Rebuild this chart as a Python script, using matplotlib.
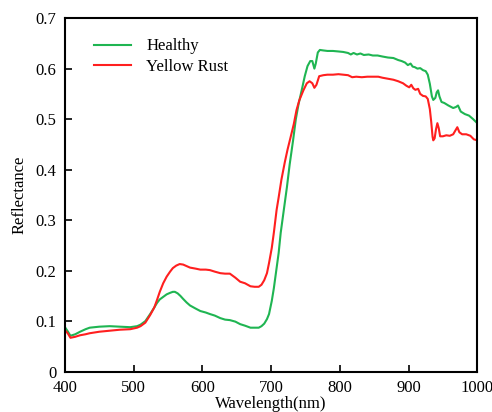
import numpy as np
import matplotlib
matplotlib.use("Agg")
import matplotlib.pyplot as plt

plt.rcParams['font.family'] = ['Liberation Serif', 'DejaVu Serif']

# healthy leaf spectrum
wl_h = [400, 404, 408, 415, 422, 430, 436, 450, 465, 480, 495, 505, 510, 517, 524,
        530, 534, 538, 543, 548, 553, 557, 560, 564, 568, 572, 577, 582, 590, 597,
        605, 611, 618, 626, 633, 640, 648, 655, 662, 670, 676, 682, 686, 690, 694,
        697, 701, 704, 707, 711, 714, 718, 723, 727, 732, 736, 740, 745, 749, 753,
        757, 760, 763, 765, 768, 771, 776, 782, 790, 798, 805, 812, 816, 820, 825,
        830, 835, 842, 848, 855, 862, 870, 878, 885, 890, 895, 899, 903, 906, 909,
        913, 917, 921, 925, 928, 931, 934, 936, 939, 941, 943, 945, 948, 952, 958,
        965, 969, 972, 976, 982, 988, 994, 1000]
refl_h = [0.088, 0.080, 0.071, 0.074, 0.079, 0.084, 0.087, 0.089, 0.090, 0.089,
          0.088, 0.090, 0.093, 0.100, 0.114, 0.127, 0.136, 0.143, 0.148, 0.153,
          0.156, 0.158, 0.158, 0.155, 0.150, 0.144, 0.137, 0.131, 0.125, 0.120,
          0.117, 0.114, 0.111, 0.106, 0.103, 0.102, 0.099, 0.094, 0.091, 0.087,
          0.087, 0.087, 0.090, 0.095, 0.104, 0.114, 0.140, 0.165, 0.195, 0.235,
          0.275, 0.315, 0.365, 0.410, 0.458, 0.500, 0.530, 0.560, 0.585, 0.605,
          0.615, 0.615, 0.600, 0.610, 0.632, 0.637, 0.636, 0.635, 0.635, 0.634,
          0.633, 0.631, 0.628, 0.631, 0.628, 0.630, 0.627, 0.628, 0.626, 0.626,
          0.624, 0.622, 0.621, 0.617, 0.615, 0.612, 0.607, 0.610, 0.604, 0.603,
          0.600, 0.601, 0.597, 0.595, 0.588, 0.570, 0.545, 0.538, 0.542, 0.553,
          0.557, 0.545, 0.534, 0.532, 0.527, 0.522, 0.524, 0.527, 0.515, 0.510,
          0.507, 0.500, 0.492]

# yellow rust spectrum
wl_r = [400, 404, 408, 415, 422, 430, 436, 450, 465, 480, 495, 505, 510, 517, 524,
        530, 534, 538, 543, 548, 553, 557, 562, 567, 572, 577, 582, 590, 597, 605,
        611, 618, 626, 633, 640, 648, 655, 662, 670, 676, 682, 686, 690, 694, 697,
        701, 704, 708, 711, 715, 720, 724, 728, 733, 737, 741, 747, 752, 756, 760,
        763, 766, 770, 776, 782, 790, 798, 805, 812, 818, 824, 832, 840, 848, 856,
        862, 870, 878, 885, 892, 897, 901, 904, 907, 910, 914, 917, 921, 925, 928,
        931, 933, 935, 936, 938, 940, 942, 944, 946, 950, 955, 960, 965, 968, 971,
        974, 978, 984, 990, 995, 1000]
refl_r = [0.082, 0.076, 0.067, 0.069, 0.072, 0.074, 0.076, 0.079, 0.081, 0.083,
          0.084, 0.087, 0.090, 0.097, 0.112, 0.127, 0.142, 0.158, 0.175, 0.188,
          0.198, 0.205, 0.210, 0.213, 0.212, 0.209, 0.206, 0.204, 0.202, 0.202,
          0.201, 0.198, 0.195, 0.194, 0.194, 0.186, 0.178, 0.175, 0.169, 0.168,
          0.168, 0.172, 0.181, 0.195, 0.215, 0.245, 0.275, 0.320, 0.345, 0.380,
          0.415, 0.440, 0.462, 0.490, 0.518, 0.537, 0.557, 0.571, 0.575, 0.571,
          0.562, 0.568, 0.585, 0.587, 0.588, 0.588, 0.589, 0.588, 0.587, 0.583,
          0.584, 0.583, 0.584, 0.584, 0.584, 0.582, 0.580, 0.578, 0.575, 0.571,
          0.566, 0.563, 0.568, 0.561, 0.558, 0.560, 0.550, 0.546, 0.545, 0.540,
          0.520, 0.495, 0.465, 0.458, 0.462, 0.480, 0.492, 0.482, 0.466, 0.466,
          0.468, 0.467, 0.470, 0.477, 0.484, 0.474, 0.470, 0.470, 0.467, 0.460,
          0.458]

xticks = [400, 500, 600, 700, 800, 900, 1000]
yticks = [0, 0.1, 0.2, 0.3, 0.4, 0.5, 0.6, 0.7]
ytick_labels = ['0', '0.1', '0.2', '0.3', '0.4', '0.5', '0.6', '0.7']

fig = plt.figure(figsize=(4.92, 4.12), dpi=100)
ax = fig.add_axes([0.132, 0.098, 0.838, 0.858])

ax.plot(wl_h, refl_h, color='#1fb552', lw=1.5, label='Healthy')
ax.plot(wl_r, refl_r, color='#ff1f1f', lw=1.5, label='Yellow Rust')

ax.set_xlim(400, 1000)
ax.set_ylim(0, 0.7)
ax.set_xticks(xticks)
ax.set_yticks(yticks)
ax.set_yticklabels(ytick_labels)
ax.tick_params(direction='in', length=5, width=1.2, labelsize=12, pad=6,
               top=False, right=False)
for s in ax.spines.values():
    s.set_linewidth(1.5)

ax.set_xlabel('Wavelength(nm)', fontsize=12, labelpad=0)
ax.set_ylabel('Reflectance', fontsize=12, labelpad=6)

ax.legend(loc='upper left', bbox_to_anchor=(0.035, 0.985), frameon=False,
          fontsize=12, handlelength=2.2, handletextpad=0.9, labelspacing=0.25)

fig.savefig('out.png', dpi=100)
